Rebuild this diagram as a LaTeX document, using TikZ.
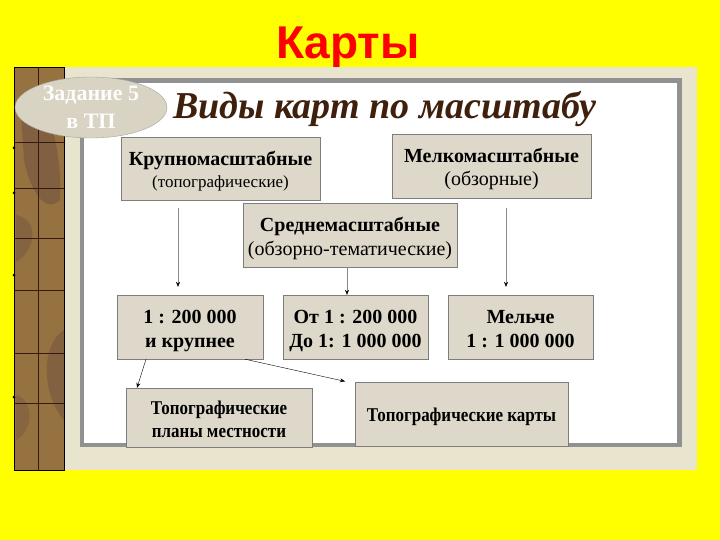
\documentclass[tikz,border=0pt]{standalone}
\usepackage{fontspec}
\setmainfont{Liberation Serif}
\newfontfamily\headfont{Liberation Sans}
\usetikzlibrary{shapes,positioning,arrows.meta}
\definecolor{slideyellow}{RGB}{255,255,0}
\definecolor{framebeige}{RGB}{233,228,205}
\definecolor{boxfill}{RGB}{221,216,201}
\definecolor{boxline}{RGB}{125,125,125}
\definecolor{mapbrown}{RGB}{150,114,64}
\definecolor{mapdark}{RGB}{112,82,66}
\definecolor{gridbrown}{RGB}{55,25,15}
\definecolor{titlebrown}{RGB}{62,32,12}
\definecolor{ovalfill}{RGB}{217,211,196}
\tikzstyle{my box} = [draw=boxline, fill=boxfill, align=center, inner sep=0pt, text height=44.5pt, text depth=4.5pt, font=\fontsize{20}{24}\selectfont]
\tikzstyle{my scale} = [my box, font=\bfseries\fontsize{20}{24}\selectfont]
\tikzstyle{my arrow} = [draw=boxline!90, -{Stealth[length=5pt,width=4pt,color=black]}]
\tikzstyle{my diag} = [draw=black, -{Stealth[length=5pt,width=4pt]}]
\newcommand{\narrow}[1]{\scalebox{0.87}[1]{#1}}

\begin{document}
\begin{tikzpicture}[x=1pt,y=-1pt]
  \useasboundingbox (0,0) rectangle (720,540);
  \fill[slideyellow] (0,0) rectangle (720,540);
  \node[font=\headfont\bfseries\fontsize{46}{50}\selectfont, text=red, anchor=base] (heading) at (348,59) {Карты};
  % Rahmen
  \fill[framebeige] (14,67) rectangle (697,470);
  \fill[boxline!85] (80,78) rectangle (682,447);
  \fill[white] (84,83) rectangle (677,443);
  % Karte links
  \fill[mapbrown] (14,67) rectangle (64,470);
  \fill[mapdark, opacity=0.55] (20,100) .. controls (50,95) and (62,150) .. (60,200) .. controls (45,215) and (30,190) .. (24,160) -- cycle;
  \fill[mapdark, opacity=0.45] (16,215) .. controls (40,220) and (36,250) .. (16,262) -- cycle;
  \fill[mapdark, opacity=0.5] (64,330) .. controls (40,345) and (42,395) .. (64,420) -- cycle;
  \fill[mapdark, opacity=0.4] (16,395) .. controls (34,400) and (34,430) .. (16,440) -- cycle;
  \draw[gridbrown, thick] (38,67) -- (38,470);
  \foreach \gy in {142,188,238,290,353,403}{
    \draw[gridbrown] (14,\gy) -- ++(50,0);
  }
  \draw[black, thick] (14,67) rectangle (64,470);
  \foreach \gy in {148,193,275,397}{
    \fill[black] (14,\gy) circle[radius=1.5pt];
  }
  % Ueberschrift
  \node[font=\bfseries\itshape\fontsize{38}{44}\selectfont, text=titlebrown, anchor=base] (title) at (385,119) {Виды карт по масштабу};
  \node[ellipse, draw=boxline!70, fill=ovalfill, minimum width=152pt, minimum height=61pt, inner sep=0pt, align=center,
        text=white!95!boxfill, font=\bfseries\fontsize{22}{28}\selectfont] (task) at (91,107.5) {Задание 5\\в ТП};
  % Karten
  \node[my box, minimum width=199pt, minimum height=63pt, text height=43.5pt, font=\fontsize{20}{22}\selectfont] (big) at (220.5,168.5) {\textbf{Крупномасштабные}\\{\fontsize{17}{20}\selectfont(топографические)}};
  \node[my box, minimum width=199pt, minimum height=64pt] (small) at (491.5,166) {\textbf{Мелкомасштабные}\\(обзорные)};
  \node[my box, minimum width=214pt, minimum height=64pt] (medium) at (350,235) {\textbf{Среднемасштабные}\\(обзорно-тематические)};
  % Masstaebe
  \node[my scale, minimum width=146pt, minimum height=64pt] (large) at (190,327) {1 : 200 000\\и крупнее};
  \node[my scale, minimum width=145pt, minimum height=64pt] (mid) at (355.5,327) {От 1 : 200 000\\До 1: 1 000 000};
  \node[my scale, minimum width=145pt, minimum height=64pt] (fine) at (520.5,327) {Мельче\\1 : 1 000 000};
  % Topographie
  \node[my scale, minimum width=186pt, minimum height=59pt, text height=43.5pt, font=\bfseries\fontsize{19.5}{23}\selectfont] (plans) at (219,417.5) {\narrow{Топографические}\\\narrow{планы местности}};
  \node[my scale, minimum width=213pt, minimum height=64pt, text height=18.5pt, font=\bfseries\fontsize{19.5}{24}\selectfont] (topo) at (461.5,414) {\narrow{Топографические карты}};
  % Pfeile
  \draw[my arrow, shorten <=8pt, shorten >=8pt] ([xshift=-42.5pt]big.south) -- ([xshift=-12pt]large.north);
  \draw[my arrow] ([xshift=-3pt]medium.south) -- ([xshift=-8.5pt]mid.north);
  \draw[my arrow, shorten <=10pt, shorten >=8pt] ([xshift=14.5pt]small.south) -- ([xshift=-14.5pt]fine.north);
  \draw[my diag] ([xshift=-44pt]large.south) -- ([xshift=-82pt]plans.north);
  \draw[my diag, shorten >=2pt] ([xshift=55pt]large.south) -- ([xshift=-114.5pt]topo.north);
\end{tikzpicture}
\end{document}
